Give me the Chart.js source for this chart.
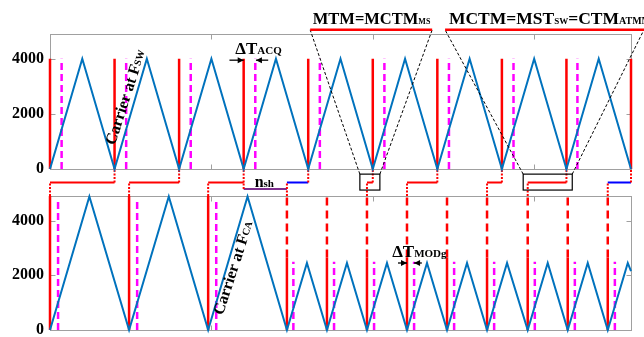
<!DOCTYPE html>
<html>
<head>
<meta charset="utf-8">
<script src="https://cdn.jsdelivr.net/npm/chart.js@4.4.1/dist/chart.umd.min.js"></script>
<style>
  body { margin: 0; background: #fff; }
  #wrap { width: 644px; height: 337px; }
</style>
</head>
<body>
<div id="wrap"><canvas id="chart"></canvas></div>
<script>
// x is in switching periods (one top carrier period = 1)

// top plot: carrier at Fsw
const topCarrierX = [0, 0.5, 1, 1.5, 2, 2.5, 3, 3.5, 4, 4.5, 5, 5.5, 6, 6.5, 7, 7.5, 8, 8.5, 9];
const topCarrierY = [0, 4000, 0, 4000, 0, 4000, 0, 4000, 0, 4000, 0, 4000, 0, 4000, 0, 4000, 0, 4000, 0];
const topRedX = [0, 1, 2, 3, 4, 5, 6, 7, 8, 9];
const topRedH = 4000;
const topMagX = [0.18, 1.18, 2.18, 3.18, 4.18, 5.18, 6.18, 7.18, 8.17];
const topMagH = 4000;

// bottom plot: carrier at Fca
const botCarrierX = [0, 0.61, 1.225, 1.84, 2.45, 3.06, 3.67, 3.98, 4.29, 4.6, 4.91, 5.22, 5.53, 5.84, 6.15, 6.46, 6.77, 7.08, 7.4, 7.71, 8.02, 8.33, 8.64, 8.95, 9];
const botCarrierY = [0, 4880, 0, 4880, 0, 4880, 0, 2450, 0, 2450, 0, 2450, 0, 2450, 0, 2450, 0, 2450, 0, 2450, 0, 2450, 0, 2450, 2150];
const botRedFullX = [0, 1.225, 2.45];
const botRedSplitX = [3.67, 4.29, 4.91, 5.53, 6.15, 6.77, 7.4, 8.02, 8.64];
const botRedSolidH = 2650;
const botRedTopH = 4900;
const botMagTallX = [0.125, 1.35, 2.575];
const botMagTallH = 4700;
const botMagShortX = [3.77, 4.4, 5.02, 5.64, 6.26, 6.88, 7.51, 8.13, 8.75];
const botMagShortH = 2500;

// middle strip: update steps (0 = bottom plot edge, 1 = top plot edge)
const redStepFrom = [0, 1.225, 2.45, 4.91, 5.53, 6.77, 7.4];
const redStepTo = [1, 2, 3, 5, 6, 7, 8];
const blueStepFrom = [3.67, 8.64];
const blueStepTo = [4, 9];
const stepLevel = 0.5;
const nshFrom = 3, nshTo = 3.67, nshLevel = 0.26;

const yTicks = [0, 2000, 4000];
const xTicks = [2.5, 5, 7.5];

const RED = '#ff0000', MAG = '#ff00ff', CARRIER = 'rgb(0,114,189)';
const FONT = '"Liberation Serif", "Times New Roman", serif';

function xy(xs, ys) {
  return xs.map((x, i) => ({ x: x, y: ys[i] }));
}
function vlines(xs, y0, y1) {
  const pts = [];
  xs.forEach(x => { pts.push({ x: x, y: y0 }, { x: x, y: y1 }, { x: x, y: null }); });
  return pts;
}
function hlines(from, to, y) {
  const pts = [];
  from.forEach((f, i) => { pts.push({ x: f, y: y }, { x: to[i], y: y }, { x: f, y: null }); });
  return pts;
}
function ds(data, axis, color, width, dash) {
  return {
    data: data, yAxisID: axis, borderColor: color, borderWidth: width,
    borderDash: dash || [], pointRadius: 0, fill: false, tension: 0, clip: false
  };
}

// dotted links through the middle strip
const midDotted = vlines(redStepFrom.concat(blueStepFrom), 0, stepLevel)
  .concat(vlines(redStepTo.concat(blueStepTo), stepLevel, 1))
  .concat(vlines([nshFrom], nshLevel, stepLevel));

function rich(ctx, parts, x, y) {
  let cx = x;
  parts.forEach(p => {
    ctx.font = 'bold ' + p.size + 'px ' + FONT;
    ctx.fillText(p.t, cx, y + (p.dy || 0));
    cx += ctx.measureText(p.t).width;
  });
}
function richWidth(ctx, parts) {
  let w = 0;
  parts.forEach(p => { ctx.font = 'bold ' + p.size + 'px ' + FONT; w += ctx.measureText(p.t).width; });
  return w;
}
function arrow(ctx, x0, y0, x1, y1) {
  ctx.beginPath(); ctx.moveTo(x0, y0); ctx.lineTo(x1, y1); ctx.stroke();
  const d = Math.sign(x1 - x0);
  ctx.beginPath(); ctx.moveTo(x1, y1); ctx.lineTo(x1 - d * 6, y1 - 3); ctx.lineTo(x1 - d * 6, y1 + 3); ctx.closePath(); ctx.fill();
}

const decor = {
  id: 'decor',
  beforeDatasetsDraw(chart) {
    const { ctx, scales } = chart;
    const x = scales.x;
    ctx.save();
    ctx.strokeStyle = '#a0a0a0';
    ctx.lineWidth = 1;
    ['yTop', 'yBot'].forEach(id => {
      const y = scales[id];
      const l = Math.round(x.left) + 0.5, r = Math.round(x.right) + 0.5;
      const t = Math.round(y.top) + 0.5, b = Math.round(y.bottom) + 0.5;
      ctx.strokeRect(l, t, r - l, b - t);
      ctx.beginPath();
      xTicks.forEach(v => {
        const px = Math.round(x.getPixelForValue(v)) + 0.5;
        ctx.moveTo(px, t); ctx.lineTo(px, t + 5);
        ctx.moveTo(px, b); ctx.lineTo(px, b - 5);
      });
      yTicks.forEach(v => {
        const py = Math.round(y.getPixelForValue(v)) + 0.5;
        ctx.moveTo(l, py); ctx.lineTo(l + 5, py);
        ctx.moveTo(r, py); ctx.lineTo(r - 5, py);
      });
      ctx.stroke();
    });
    ctx.restore();
  },
  afterDatasetsDraw(chart) {
    const { ctx, scales } = chart;
    const X = v => scales.x.getPixelForValue(v);
    const YT = v => scales.yTop.getPixelForValue(v);
    const YM = v => scales.yMid.getPixelForValue(v);
    const YB = v => scales.yBot.getPixelForValue(v);
    ctx.save();

    // zoom boxes and their brackets
    const brY = YT(5050);
    ctx.strokeStyle = '#000';
    ctx.lineWidth = 1.2;
    ctx.strokeRect(X(4.8), YM(0.81), X(5.11) - X(4.8), YM(0.22) - YM(0.81));
    ctx.strokeRect(X(7.33), YM(0.81), X(8.09) - X(7.33), YM(0.22) - YM(0.81));
    ctx.setLineDash([3, 2]);
    ctx.lineWidth = 1;
    ctx.beginPath();
    ctx.moveTo(X(4.8), YM(0.81)); ctx.lineTo(X(4.03), brY);
    ctx.moveTo(X(5.11), YM(0.81)); ctx.lineTo(X(5.92), brY);
    ctx.moveTo(X(7.33), YM(0.81)); ctx.lineTo(X(6.12), brY);
    ctx.moveTo(X(8.09), YM(0.81)); ctx.lineTo(X(9.2), brY);
    ctx.stroke();
    ctx.setLineDash([]);
    ctx.strokeStyle = RED;
    ctx.lineWidth = 2.5;
    ctx.beginPath();
    ctx.moveTo(X(4.03), brY); ctx.lineTo(X(5.92), brY);
    ctx.moveTo(X(6.12), brY); ctx.lineTo(X(9.3), brY);
    ctx.stroke();

    ctx.fillStyle = '#000';
    ctx.textBaseline = 'alphabetic';
    ctx.textAlign = 'left';
    rich(ctx, [{ t: 'MTM=MCTM', size: 16.5 }, { t: 'MS', size: 8 }], X(4.07), brY - 6);
    rich(ctx, [{ t: 'MCTM=MST', size: 17.5 }, { t: 'SW', size: 9 }, { t: '=CTM', size: 17.5 }, { t: 'ATMMIN', size: 10 }], X(6.18), brY - 6);

    // delta T labels
    rich(ctx, [{ t: '\u0394T', size: 17 }, { t: 'ACQ', size: 11 }], X(2.87), YT(4170));
    rich(ctx, [{ t: '\u0394T', size: 17 }, { t: 'MODg', size: 11 }], X(5.3), YB(2670));
    rich(ctx, [{ t: 'n', size: 16 }, { t: 'sh', size: 11 }], X(3.17), YM(0.33));
    ctx.strokeStyle = '#000';
    ctx.lineWidth = 1.3;
    arrow(ctx, X(2.78), YT(3950), X(3), YT(3950));
    arrow(ctx, X(3.38), YT(3950), X(3.19), YT(3950));
    arrow(ctx, X(5.39), YB(2450), X(5.53), YB(2450));
    arrow(ctx, X(5.76), YB(2450), X(5.64), YB(2450));

    // rotated carrier labels
    [[1.18, YT(2600), 'SW'], [2.85, YB(2267), 'CA']].forEach(c => {
      const parts = [{ t: 'Carrier at F', size: 16 }, { t: c[2], size: 10, dy: 1 }];
      ctx.save();
      ctx.translate(X(c[0]), c[1]);
      ctx.rotate(-72 * Math.PI / 180);
      ctx.textBaseline = 'middle';
      rich(ctx, parts, -richWidth(ctx, parts) / 2, 0);
      ctx.restore();
    });
    ctx.restore();
  }
};

function yAxis(weight, stackWeight, max, showTicks) {
  return {
    type: 'linear', position: 'left', stack: 'plots', weight: weight, stackWeight: stackWeight,
    min: 0, max: max,
    grid: { display: false, drawTicks: false },
    border: { display: false },
    ticks: {
      display: showTicks, padding: 6, color: '#000',
      font: { family: FONT, size: 16, weight: 'bold' },
      callback: v => String(v)
    },
    afterBuildTicks: s => { s.ticks = yTicks.filter(v => v <= max).map(v => ({ value: v })); },
    afterFit: s => { s.width = 50; s.paddingTop = 0; s.paddingBottom = 0; }
  };
}

new Chart(document.getElementById('chart'), {
  type: 'line',
  data: {
    datasets: [
      ds(xy(topCarrierX, topCarrierY), 'yTop', CARRIER, 2),
      ds(vlines(topRedX, 0, topRedH), 'yTop', RED, 2.5),
      ds(vlines(topMagX, 0, topMagH), 'yTop', MAG, 2.5, [7, 4]),
      ds(xy(botCarrierX, botCarrierY), 'yBot', CARRIER, 2),
      ds(vlines(botRedFullX, 0, botRedTopH), 'yBot', RED, 2.5),
      ds(vlines(botRedSplitX, 0, botRedSolidH), 'yBot', RED, 2.5),
      ds(vlines(botRedSplitX, botRedSolidH, botRedTopH), 'yBot', RED, 2.5, [8, 5]),
      ds(vlines(botMagTallX, 0, botMagTallH), 'yBot', MAG, 2.5, [7, 4]),
      ds(vlines(botMagShortX, 0, botMagShortH), 'yBot', MAG, 2.5, [7, 4]),
      ds(midDotted, 'yMid', RED, 2, [2, 1.5]),
      ds(hlines(redStepFrom, redStepTo, stepLevel), 'yMid', RED, 2),
      ds(hlines(blueStepFrom, blueStepTo, stepLevel), 'yMid', '#0000ff', 2),
      ds(hlines([nshFrom], [nshTo], nshLevel), 'yMid', 'rgb(126,47,142)', 2)
    ]
  },
  options: {
    responsive: true,
    maintainAspectRatio: false,
    animation: false,
    layout: { padding: { left: 0, right: 13, top: 34, bottom: 7 } },
    plugins: { legend: { display: false }, tooltip: { enabled: false } },
    scales: {
      x: { type: 'linear', min: 0, max: 9, display: false },
      yTop: yAxis(3, 135, 4900, true),
      yMid: yAxis(2, 27, 1, false),
      yBot: yAxis(1, 134, 4900, true)
    }
  },
  plugins: [decor]
});
</script>
</body>
</html>
